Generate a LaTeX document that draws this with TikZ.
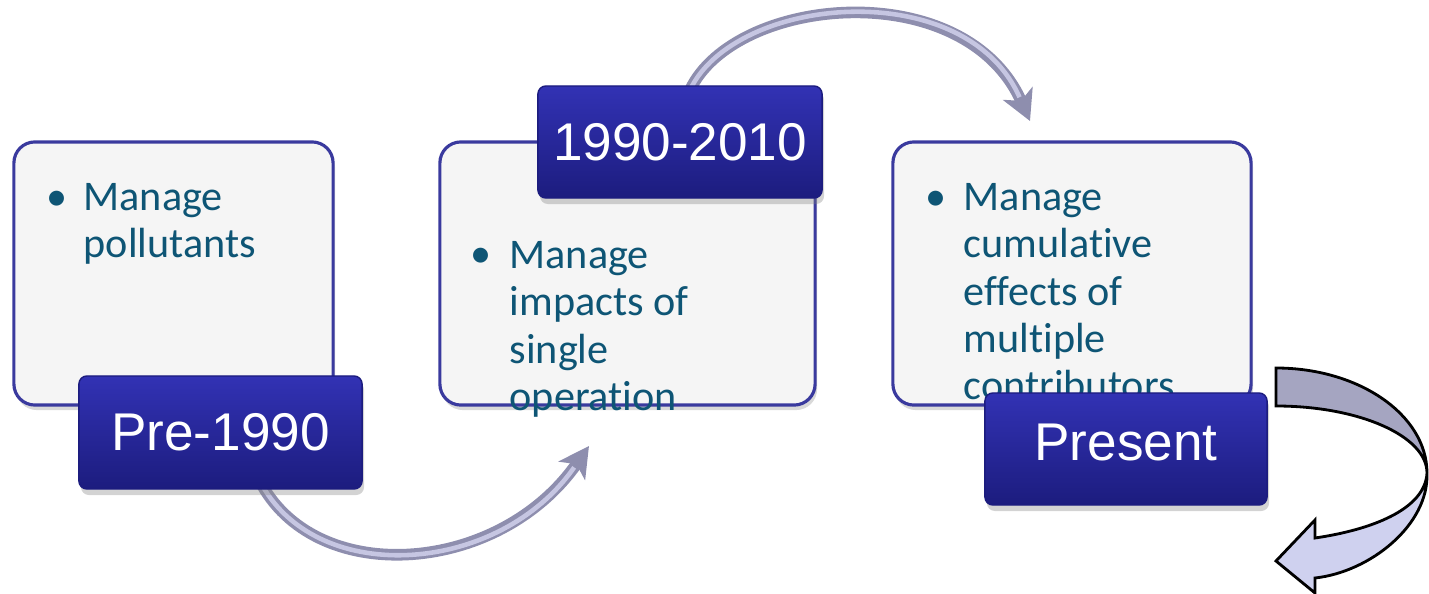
\documentclass[tikz,border=0pt]{standalone}
\usepackage{fontspec}
\setmainfont{Carlito}[Ligatures=CommonOff]
\newfontfamily\arialf{Liberation Sans}
\usetikzlibrary{shadows,arrows.meta}
\definecolor{boxfill}{HTML}{F5F5F5}
\definecolor{boxline}{HTML}{3A3A9E}
\definecolor{txt}{HTML}{0E5575}
\definecolor{darktop}{HTML}{3232B4}
\definecolor{darkmid}{HTML}{2929A6}
\definecolor{darkbot}{HTML}{1C1C7E}
\definecolor{tubeout}{HTML}{8E8EAE}
\definecolor{tubein}{HTML}{C6C6E2}
\definecolor{bandback}{HTML}{A5A5C1}
\definecolor{bandfront}{HTML}{CFD1EF}
\tikzset{
  lightbox/.style={draw=boxline, line width=0.9pt, fill=boxfill, rounded corners=0.21cm,
    drop shadow={opacity=0.3, shadow xshift=0.02cm, shadow yshift=-0.05cm}, inner sep=0},
  darkbox/.style={draw=darkbot, line width=0.4pt, top color=darktop, middle color=darkmid, bottom color=darkbot,
    rounded corners=0.08cm, text=white, font=\arialf\fontsize{15.1pt}{17pt}\selectfont,
    drop shadow={opacity=0.35, shadow xshift=0.02cm, shadow yshift=-0.06cm}, inner sep=0},
  bullettext/.style={text=txt, font=\fontsize{12pt}{13.4pt}\selectfont, align=left, inner sep=0, anchor=north west},
  bulletdot/.style={text=txt, font=\fontsize{12pt}{13.4pt}\selectfont, inner sep=0, anchor=base},
  tubeouter/.style={draw=tubeout, line width=3.3pt, -{Stealth[length=0.3cm,width=0.32cm,inset=0.08cm]}},
  tubeinner/.style={draw=tubein, line width=1.3pt, shorten >=0.26cm},
  band/.style={draw=black, line width=0.8pt, line join=miter}
}
\begin{document}
\begin{tikzpicture}[x=0.01cm, y=-0.01cm]
\useasboundingbox (0,0) rectangle (1429,594);

% light boxes
\node[lightbox, minimum width=3.19cm, minimum height=2.63cm] (box1) at (173.5,273.5) {};
\node[lightbox, minimum width=3.75cm, minimum height=2.63cm] (box2) at (627.5,273.5) {};
\node[lightbox, minimum width=3.58cm, minimum height=2.63cm] (box3) at (1072,273.5) {};

% bullet texts
\node[bulletdot] (d1) at (57,210) {\textbullet};
\node[bullettext] (t1) at (83,183) {Manage\\pollutants};
\node[bulletdot] (d2) at (481,268) {\textbullet};
\node[bullettext] (t2) at (509,241) {Manage\\impacts of\\single\\operation};
\node[bulletdot] (d3) at (936,210) {\textbullet};
\node[bullettext] (t3) at (963,183) {Manage\\cumulative\\effects of\\multiple\\contributors};

% connector arrows
\coordinate (a1s) at (262,485);
\coordinate (a1e) at (589,446);
\coordinate (a2s) at (690,90);
\coordinate (a2e) at (1030,121);
\draw[tubeouter] (a1s) .. controls (320,588) and (500,574) .. (a1e);
\draw[tubeinner] (a1s) .. controls (320,588) and (500,574) .. (a1e);
\draw[tubeouter] (a2s) .. controls (735,-5) and (965,-26) .. (a2e);
\draw[tubeinner] (a2s) .. controls (735,-5) and (965,-26) .. (a2e);

% dark label boxes
\node[darkbox, minimum width=2.83cm, minimum height=1.13cm] (pre) at (220.5,432.5) {Pre-1990};
\node[darkbox, minimum width=2.84cm, minimum height=1.12cm] (mid) at (680,142) {1990-2010};
\node[darkbox, minimum width=2.82cm, minimum height=1.12cm] (pres) at (1126,449) {\raisebox{4pt}{Present}};

% curved block arrow
\draw[band, fill=bandback] (1276,368) .. controls (1359,368) and (1427,415) .. (1427,473)
  .. controls (1427,436) and (1359,406) .. (1276,406) -- cycle;
\draw[band, fill=bandfront] (1427,473) .. controls (1429,525) and (1370,572) .. (1315,578)
  -- (1315,593) -- (1276,561) -- (1315,520) -- (1315,538)
  .. controls (1370,530) and (1425,510) .. (1427,473) -- cycle;
\end{tikzpicture}
\end{document}
